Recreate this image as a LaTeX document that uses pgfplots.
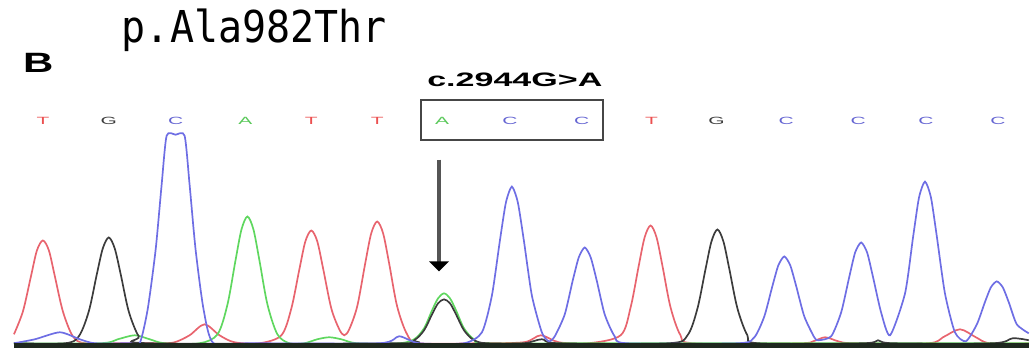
\documentclass[border=0pt]{standalone}
\usepackage{pgfplots}
\pgfplotsset{compat=1.18}
\usepackage{fontspec}
\setmainfont{Liberation Sans}
\newfontfamily\titlefont{DejaVu Sans Mono}
\definecolor{tred}{RGB}{232,100,110}
\definecolor{tblack}{RGB}{60,60,60}
\definecolor{tgreen}{RGB}{95,215,95}
\definecolor{tblue}{RGB}{110,110,228}
\definecolor{lred}{RGB}{235,80,80}
\definecolor{lgreen}{RGB}{90,200,90}
\definecolor{lblue}{RGB}{100,100,210}
\newcommand{\base}[3]{\node[anchor=base, inner sep=0pt, text=#3] at (axis cs:#1,125) {\fontsize{10.5}{11}\selectfont\scalebox{2}[1]{#2}};}
\begin{document}
\begin{tikzpicture}
\begin{axis}[
  scale only axis, width=1031pt, height=349pt,
  xmin=0, xmax=1031, ymin=0, ymax=349, y dir=reverse,
  hide axis, clip=false,
]
\path (rel axis cs:0,0) rectangle (rel axis cs:1,1);
% red (T)
\addplot[tred, line width=1.7pt, smooth, tension=0.5] coordinates {
(14,335)(23,312)(31,277)(37,251)(43,241)(49,251)(55,277)(63,312)(73,337)(85,344)(120,344)
(160,344)(175,343)(190,336)(205,325)(220,336)(235,343)(260,344)
(282,336)(292,309)(300,270)(306,242)(312,231)(318,242)(324,270)(332,309)(340,330)(345,336)
(350,330)(358,307)(366,264)(372,234)(378,222)(384,234)(390,264)(398,307)(408,335)(420,344)
(480,344)(525,343)(542,336)(560,343)(590,344)
(622,336)(632,308)(640,267)(646,238)(652,226)(658,238)(664,267)(672,308)(682,336)(695,344)
(800,344)(815,342)(827,338)(840,342)(855,344)
(930,344)(945,338)(962,330)(978,338)(992,344)(1031,344)};
% green (A)
\addplot[tgreen, line width=1.7pt, smooth, tension=0.5] coordinates {
(14,344)(100,344)(118,340)(135,336)(150,340)(165,344)(200,344)
(218,335)(228,305)(236,261)(242,230)(248,217)(254,230)(260,261)(268,305)(278,335)(290,344)
(305,344)(318,340)(330,338)(342,340)(358,344)(400,344)
(415,340)(425,329)(433,311)(439,299)(445,294)(451,299)(457,311)(465,329)(475,340)(488,344)
(600,344)(1031,344)};
% black (G)
\addplot[tblack, line width=1.7pt, smooth, tension=0.5] coordinates {
(14,344)(65,344)
(79,337)(89,312)(97,275)(103,249)(109,238)(115,249)(121,275)(129,312)(139,337)(150,344)
(400,344)
(415,341)(425,331)(433,315)(439,304)(445,300)(451,304)(457,315)(465,331)(475,341)(488,344)
(525,344)(543,340)(560,344)(670,344)
(689,336)(699,309)(707,270)(713,242)(719,230)(725,242)(731,270)(739,309)(749,336)(760,344)
(865,344)(880,341)(895,344)(995,344)(1015,339)(1031,341)};
% blue (C)
\addplot[tblue, line width=1.7pt, smooth, tension=0.4] coordinates {
(14,344)(35,340)(60,333)(80,340)(95,344)(130,344)
(140,344)(148,310)(156,250)(162,185)(167,136)(176,135)(185,136)(190,185)(196,250)(204,310)(214,344)
(250,344)(380,344)(400,337)(420,344)(465,344)
(483,333)(493,296)(501,241)(507,203)(513,187)(519,203)(525,241)(533,296)(543,333)(550,342)
(556,337)(566,315)(574,281)(580,258)(586,248)(592,258)(598,281)(606,315)(616,337)(628,344)
(740,344)
(756,338)(766,317)(774,287)(780,266)(786,257)(792,266)(798,287)(806,317)(816,338)(820,341)
(833,337)(843,313)(851,278)(857,253)(863,243)(869,253)(875,278)(883,313)(892,336)
(907,294)(915,238)(921,198)(927,182)(933,198)(939,238)(947,294)(957,333)(968,342)
(979,325)(987,303)(993,288)(999,282)(1005,288)(1011,303)(1019,325)(1031,334)};
% baseline
\draw[line width=4.5pt, color={rgb,255:red,30;green,40;blue,30}] (axis cs:14,346) -- (axis cs:1031,346);
% arrow
\draw[line width=3.5pt, color={rgb,255:red,85;green,85;blue,85}] (axis cs:440,160) -- (axis cs:440,263);
\fill[black] (axis cs:430,262) -- (axis cs:450,262) -- (axis cs:440,272) -- cycle;
% box
\draw[line width=2pt, color={rgb,255:red,70;green,70;blue,70}] (axis cs:422,100) rectangle (axis cs:604,140);
% texts
\node[anchor=base west, inner sep=0pt] at (axis cs:122,43) {\titlefont\fontsize{44}{46}\selectfont\scalebox{0.91}[1]{p.Ala982Thr}};
\node[anchor=base west, inner sep=0pt] at (axis cs:23,73) {\fontsize{28}{30}\selectfont\bfseries\scalebox{1.5}[1]{B}};
\node[anchor=base west, inner sep=0pt] at (axis cs:428,87) {\fontsize{19.5}{21}\selectfont\bfseries\scalebox{1.75}[1]{c.2944G>A}};
\base{43}{T}{lred}
\base{109}{G}{tblack}
\base{176}{C}{lblue}
\base{246}{A}{lgreen}
\base{312}{T}{lred}
\base{378}{T}{lred}
\base{443}{A}{lgreen}
\base{511}{C}{lblue}
\base{583}{C}{lblue}
\base{653}{T}{lred}
\base{718}{G}{tblack}
\base{788}{C}{lblue}
\base{860}{C}{lblue}
\base{928}{C}{lblue}
\base{1000}{C}{lblue}
\end{axis}
\end{tikzpicture}
\end{document}
